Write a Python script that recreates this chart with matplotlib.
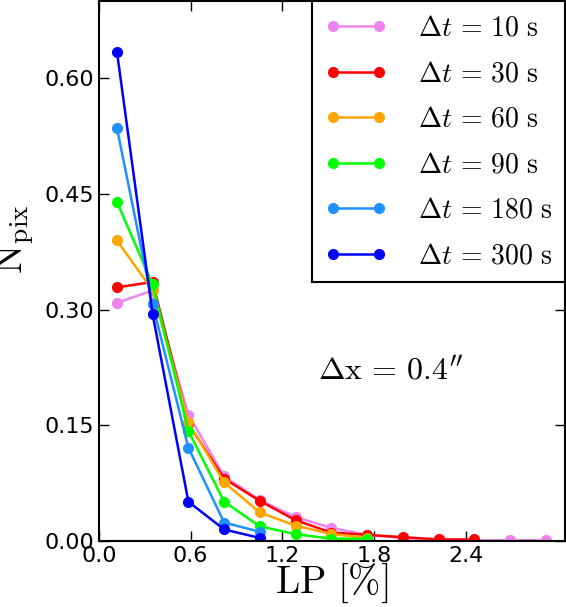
import matplotlib
matplotlib.use("Agg")
import matplotlib.pyplot as plt

plt.rcParams['mathtext.fontset'] = 'cm'

# bin centres of LP [%]
lp = [0.117, 0.351, 0.585, 0.819, 1.053, 1.287, 1.521, 1.755, 1.989, 2.223, 2.457, 2.691, 2.925]

n_10 = [0.309, 0.325, 0.164, 0.084, 0.053, 0.031, 0.017, 0.008, 0.004, 0.002, 0.001, 0.001, 0.001]
n_30 = [0.329, 0.336, 0.152, 0.081, 0.052, 0.027, 0.011, 0.008, 0.005, 0.002, 0.002]
n_60 = [0.390, 0.325, 0.154, 0.076, 0.037, 0.020, 0.009, 0.004]
n_90 = [0.440, 0.333, 0.143, 0.051, 0.019, 0.009, 0.003, 0.003]
n_180 = [0.536, 0.307, 0.121, 0.024, 0.012]
n_300 = [0.635, 0.294, 0.051, 0.015, 0.004]

series = [(n_10, 'violet', '10'), (n_30, 'red', '30'), (n_60, 'orange', '60'),
          (n_90, 'lime', '90'), (n_180, 'dodgerblue', '180'), (n_300, 'blue', '300')]

fig = plt.figure(figsize=(5.66, 6.07), dpi=100)
ax = fig.add_axes([0.175, 0.1087, 0.823, 0.889])

for y, c, dt in series:
    ax.plot(lp[:len(y)], y, '-o', color=c, lw=1.8, ms=7, mec=c,
            label=r'$\Delta t\,=\,%s\ \mathrm{s}$' % dt)

ax.set_xlim(0, 3.05)
ax.set_ylim(0, 0.70)
ax.set_xticks([0.0, 0.6, 1.2, 1.8, 2.4])
ax.set_yticks([0.0, 0.15, 0.30, 0.45, 0.60])
ax.set_xticklabels(['0.0', '0.6', '1.2', '1.8', '2.4'])
ax.set_yticklabels(['0.00', '0.15', '0.30', '0.45', '0.60'])
ax.tick_params(direction='in', top=True, right=True, labelsize=16, length=7, width=1)
for s in ax.spines.values():
    s.set_linewidth(1.5)

ax.set_xlabel(r'$\mathrm{LP\ [\%]}$', fontsize=28, labelpad=-3)
ax.set_ylabel(r'$\mathrm{N_{pix}}$', fontsize=28)
ax.yaxis.set_label_coords(-0.135, 0.56)

ax.text(0.47, 0.30, r'$\Delta \mathrm{x}\,=\,0.4^{\prime\prime}$', fontsize=23,
        transform=ax.transAxes)

leg = ax.legend(loc='upper right', fontsize=20, numpoints=2, fancybox=False,
                borderaxespad=0, handlelength=2.25, labelspacing=0.63,
                handletextpad=1.1, borderpad=0.45, framealpha=1)
leg.get_frame().set_edgecolor('black')
leg.get_frame().set_linewidth(1.5)

fig.savefig('out.png', dpi=100)
